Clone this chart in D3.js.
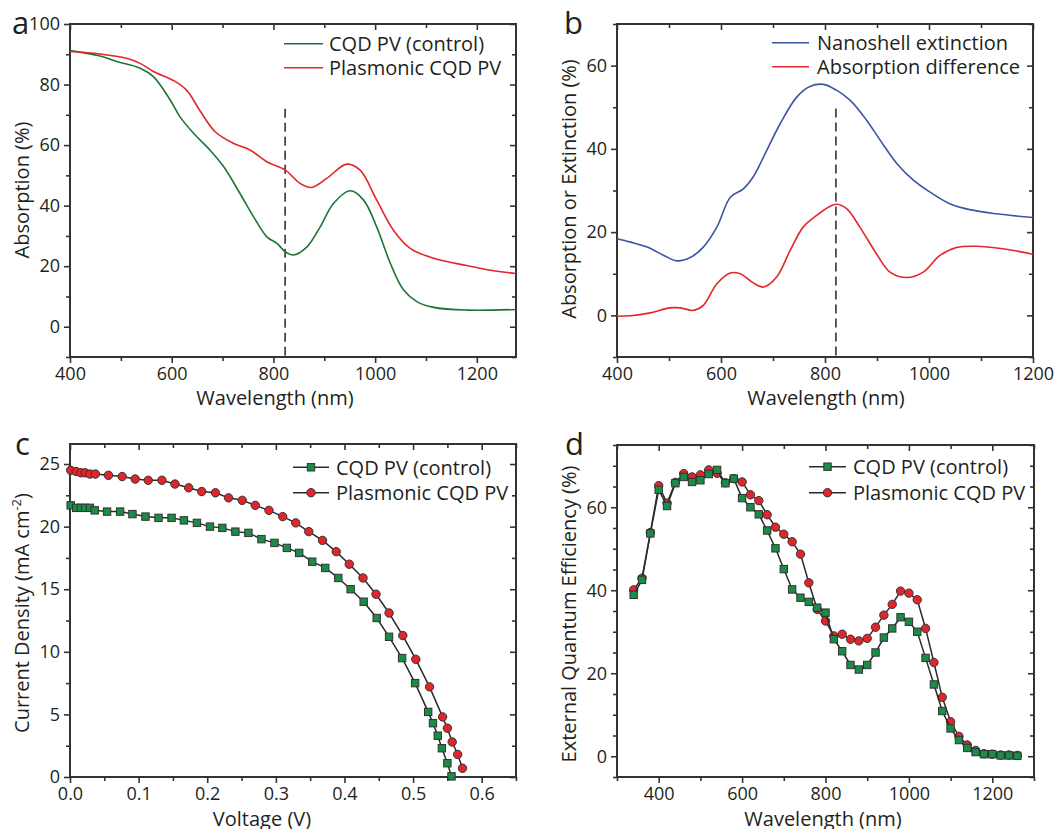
<!DOCTYPE html>
<html>
<head>
<meta charset="utf-8">
<script src="https://cdn.jsdelivr.net/npm/d3@7"></script>
<style>
  body { margin: 0; background: #fff; }
  svg { font-family: "Open Sans", sans-serif; }
</style>
</head>
<body>
<svg id="chart" width="1059" height="829"></svg>
<script>
// ---- panel a: absorption spectra ----
const ctrlAbsWl = [400, 459, 492, 538, 564, 597, 616, 643, 675, 702, 734, 761, 787, 807, 823, 839, 866, 892, 918, 951, 977, 1003, 1030, 1056, 1082, 1115, 1180, 1277];
const ctrlAbs   = [91.2, 89.4, 87.6, 85.4, 82.6, 74.9, 69.4, 63.9, 58.4, 52.9, 44.1, 36.3, 29.7, 27.5, 24.8, 23.7, 26.4, 33.0, 40.7, 44.9, 41.9, 33.0, 20.9, 12.1, 8.3, 6.4, 5.5, 5.7];
const plasAbsWl = [400, 459, 511, 538, 564, 605, 630, 655, 685, 721, 754, 787, 823, 852, 875, 905, 944, 970, 1003, 1036, 1069, 1115, 1180, 1233, 1277];
const plasAbs   = [90.9, 90.1, 88.7, 87.0, 84.3, 81.2, 78.0, 71.5, 64.5, 60.6, 58.4, 54.5, 51.8, 47.4, 46.0, 49.0, 53.7, 51.8, 41.9, 31.9, 25.9, 22.6, 20.2, 18.5, 17.6];

// ---- panel b: nanoshell extinction / absorption difference ----
const extWl  = [400, 426, 458, 490, 515, 541, 566, 592, 618, 643, 662, 682, 714, 746, 771, 797, 822, 848, 880, 906, 938, 970, 1002, 1040, 1078, 1130, 1200];
const ext    = [18.4, 17.6, 16.4, 14.4, 13.1, 13.9, 16.4, 21.2, 28.4, 30.4, 33.3, 38.1, 46.1, 52.5, 55.0, 55.5, 54.1, 51.7, 46.9, 42.1, 36.5, 32.5, 29.6, 26.8, 25.4, 24.4, 23.5];
const diffWl = [400, 426, 464, 502, 522, 547, 566, 592, 618, 637, 662, 682, 707, 733, 758, 784, 810, 822, 842, 867, 899, 925, 957, 989, 1021, 1053, 1091, 1142, 1200];
const diff   = [-0.2, -0.1, 0.6, 1.8, 1.8, 1.2, 2.4, 7.6, 10.2, 10.0, 7.8, 6.8, 9.2, 15.6, 21.2, 24.0, 26.2, 26.7, 25.6, 21.2, 14.8, 10.4, 9.1, 10.4, 14.4, 16.3, 16.6, 16.0, 14.7];

// ---- panel c: J-V curves ----
const ctrlV = [0.001, 0.009, 0.016, 0.022, 0.029, 0.036, 0.054, 0.073, 0.091, 0.110, 0.129, 0.148, 0.166, 0.185, 0.204, 0.222, 0.241, 0.260, 0.279, 0.298, 0.316, 0.334, 0.353, 0.372, 0.391, 0.409, 0.428, 0.447, 0.465, 0.484, 0.503, 0.522, 0.529, 0.536, 0.542, 0.550, 0.556];
const ctrlJ = [21.7, 21.5, 21.5, 21.5, 21.5, 21.3, 21.2, 21.2, 21.0, 20.8, 20.7, 20.7, 20.5, 20.3, 20.0, 19.9, 19.6, 19.5, 19.0, 18.7, 18.3, 17.9, 17.2, 16.7, 15.9, 15.0, 14.0, 12.7, 11.2, 9.5, 7.5, 5.2, 4.3, 3.3, 2.3, 1.1, 0.05];
const plasV = [0.001, 0.009, 0.016, 0.022, 0.029, 0.037, 0.056, 0.076, 0.095, 0.114, 0.134, 0.153, 0.173, 0.192, 0.212, 0.231, 0.251, 0.270, 0.290, 0.310, 0.329, 0.348, 0.368, 0.388, 0.407, 0.427, 0.446, 0.465, 0.485, 0.504, 0.524, 0.543, 0.550, 0.557, 0.565, 0.572];
const plasJ = [24.5, 24.4, 24.3, 24.3, 24.2, 24.2, 24.1, 24.0, 23.8, 23.7, 23.7, 23.4, 23.1, 22.8, 22.7, 22.3, 22.1, 21.7, 21.3, 20.8, 20.3, 19.6, 18.9, 18.0, 17.0, 15.9, 14.6, 13.1, 11.3, 9.4, 7.2, 4.8, 3.9, 2.8, 1.8, 0.7];

// ---- panel d: EQE ----
const eqeWl = [340, 360, 380, 400, 420, 440, 460, 480, 500, 520, 540, 560, 580, 600, 620, 640, 660, 680, 700, 720, 740, 760, 780, 800, 820, 840, 860, 880, 900, 920, 940, 960, 980, 1000, 1020, 1040, 1060, 1080, 1100, 1120, 1140, 1160, 1180, 1200, 1220, 1240, 1260];
const ctrlEqe = [38.9, 42.5, 53.7, 64.2, 60.3, 65.8, 67.3, 66.1, 66.5, 68.0, 69.0, 65.8, 66.9, 62.2, 60.0, 58.3, 54.4, 50.1, 45.1, 40.2, 38.2, 37.2, 35.8, 34.6, 28.2, 25.3, 22.0, 20.9, 22.0, 25.0, 28.6, 30.8, 33.5, 32.4, 30.0, 23.7, 17.3, 10.9, 6.7, 3.9, 2.0, 1.0, 0.5, 0.5, 0.2, 0.2, 0.1];
const plasEqe = [40.1, 42.9, 53.9, 65.2, 61.0, 66.0, 68.1, 67.3, 67.8, 69.0, 68.2, 65.9, 66.9, 66.1, 63.0, 61.6, 58.2, 55.2, 53.5, 51.7, 48.7, 41.8, 35.4, 32.6, 29.0, 29.4, 28.2, 27.8, 28.4, 31.1, 34.0, 36.6, 39.8, 39.3, 37.7, 30.8, 22.6, 14.2, 8.3, 4.8, 2.7, 1.4, 0.6, 0.5, 0.3, 0.3, 0.2];

// tick labels
const wlTicksA = [400, 600, 800, 1000, 1200];
const absTicks = [0, 20, 40, 60, 80, 100];
const extTicks = [0, 20, 40, 60];
const vTicks = [0.0, 0.1, 0.2, 0.3, 0.4, 0.5, 0.6];
const jTicks = [0, 5, 10, 15, 20, 25];
const eqeTicks = [0, 20, 40, 60];

const legendA = ["CQD PV (control)", "Plasmonic CQD PV"];
const legendB = ["Nanoshell extinction", "Absorption difference"];

const axisColor = "#333";
const textColor = "#231f20";
const green = "#1d7436";
const red = "#e3262b";
const blue = "#3b55a5";
const markGreen = "#1a8c47";
const markRed = "#e0262b";

const svg = d3.select("#chart");

function drawTicks(g, axisFn, scale, vals, size, tr, fmt) {
  const a = axisFn(scale).tickValues(vals).tickSize(size).tickPadding(4);
  a.tickFormat(fmt || "");
  const s = g.append("g").attr("transform", tr).call(a);
  s.select(".domain").remove();
  s.selectAll("line").attr("stroke", axisColor).attr("stroke-width", 1.6);
  if (!fmt) s.selectAll("text").remove();
  s.selectAll("text").attr("fill", textColor).style("font-size", "18px")
    .style("font-family", "'Open Sans', sans-serif");
}

function panel(o) {
  const g = svg.append("g");
  const x = d3.scaleLinear().domain(o.xDomain).range([o.left, o.right]);
  const y = d3.scaleLinear().domain(o.yDomain).range([o.bottom, o.top]);
  const xMinor = d3.range(o.xDomain[0], o.xDomain[1] + 1e-9, o.xMinorStep).filter(v => !o.xTicks.some(t => Math.abs(t - v) < 1e-9));
  const yMinor = d3.range(o.yMinorStart, o.yDomain[1] + 1e-9, o.yMinorStep).filter(v => !o.yTicks.some(t => Math.abs(t - v) < 1e-9));

  drawTicks(g, d3.axisBottom, x, o.xTicks, 6, `translate(0,${o.bottom})`, o.xFmt || d3.format("d"));
  drawTicks(g, d3.axisBottom, x, xMinor, 4, `translate(0,${o.bottom})`);
  drawTicks(g, d3.axisTop, x, o.xTicks, -6, `translate(0,${o.top})`);
  drawTicks(g, d3.axisTop, x, xMinor, -4, `translate(0,${o.top})`);
  drawTicks(g, d3.axisLeft, y, o.yTicks, 6, `translate(${o.left},0)`, d3.format("d"));
  drawTicks(g, d3.axisLeft, y, yMinor, 4, `translate(${o.left},0)`);
  drawTicks(g, d3.axisRight, y, o.yTicks, -6, `translate(${o.right},0)`);
  drawTicks(g, d3.axisRight, y, yMinor, -4, `translate(${o.right},0)`);

  g.append("rect")
    .attr("x", o.left).attr("y", o.top)
    .attr("width", o.right - o.left).attr("height", o.bottom - o.top)
    .attr("fill", "none").attr("stroke", axisColor).attr("stroke-width", 2);

  g.append("text").attr("x", o.xTitleX).attr("y", o.xTitleY)
    .attr("text-anchor", "middle").attr("fill", textColor)
    .style("font-size", "20px").text(o.xTitle);

  const yt = g.append("text")
    .attr("transform", `translate(${o.yTitleX},${o.yTitleY}) rotate(-90)`)
    .attr("text-anchor", "middle").attr("fill", textColor)
    .style("font-size", "20px");
  yt.text(o.yTitle);
  if (o.yTitleSup) {
    yt.append("tspan").attr("dy", -8).style("font-size", "13px").text(o.yTitleSup);
    yt.append("tspan").attr("dy", 8).text(")");
  }

  g.append("text").attr("x", o.labelX).attr("y", o.labelY)
    .attr("fill", textColor).style("font-size", "31px").text(o.label);

  return { g, x, y };
}

function curve(p, xs, ys, color) {
  const line = d3.line().x(d => p.x(d[0])).y(d => p.y(d[1])).curve(d3.curveCatmullRom.alpha(0.5));
  p.g.append("path").datum(d3.zip(xs, ys))
    .attr("d", line).attr("fill", "none")
    .attr("stroke", color).attr("stroke-width", 1.6);
}

function dashed(p, xv, y0, y1) {
  p.g.append("line")
    .attr("x1", p.x(xv)).attr("x2", p.x(xv))
    .attr("y1", p.y(y0)).attr("y2", p.y(y1))
    .attr("stroke", "#333").attr("stroke-width", 1.6)
    .attr("stroke-dasharray", "9,5");
}

function marker(g, cx, cy, shape, fill) {
  if (shape === "square") {
    g.append("rect").attr("x", cx - 3.7).attr("y", cy - 3.7)
      .attr("width", 7.4).attr("height", 7.4)
      .attr("fill", fill).attr("stroke", "#333").attr("stroke-width", 1);
  } else {
    g.append("circle").attr("cx", cx).attr("cy", cy).attr("r", 4.2)
      .attr("fill", fill).attr("stroke", "#333").attr("stroke-width", 1);
  }
}

function scatterLine(p, xs, ys, shape, fill) {
  const pts = d3.zip(xs, ys);
  const line = d3.line().x(d => p.x(d[0])).y(d => p.y(d[1]));
  p.g.append("path").datum(pts).attr("d", line)
    .attr("fill", "none").attr("stroke", "#2a2a2a").attr("stroke-width", 1.5);
  const mg = p.g.append("g");
  pts.forEach(d => marker(mg, p.x(d[0]), p.y(d[1]), shape, fill));
}

function legend(p, items, x0, x1, ys, tx) {
  items.forEach((it, i) => {
    p.g.append("line").attr("x1", x0).attr("x2", x1).attr("y1", ys[i]).attr("y2", ys[i])
      .attr("stroke", it.color).attr("stroke-width", it.shape ? 1.5 : 1.6);
    if (it.shape) marker(p.g, (x0 + x1) / 2, ys[i], it.shape, it.fill);
    p.g.append("text").attr("x", tx).attr("y", ys[i]).attr("dy", "0.36em")
      .attr("fill", textColor).style("font-size", "20px").text(it.label);
  });
}

// ---- a ----
const pa = panel({
  left: 70, right: 516, top: 24, bottom: 357,
  xDomain: [400, 1277], yDomain: [-10, 100],
  xTicks: wlTicksA, xMinorStep: 100, yTicks: absTicks, yMinorStart: -10, yMinorStep: 10,
  xTitle: "Wavelength (nm)", xTitleX: 275, xTitleY: 405,
  yTitle: "Absorption (%)", yTitleX: 29, yTitleY: 190,
  label: "a", labelX: 12, labelY: 34
});
dashed(pa, 823, 72, -10);
curve(pa, ctrlAbsWl, ctrlAbs, green);
curve(pa, plasAbsWl, plasAbs, red);
legend(pa, [{ label: legendA[0], color: green }, { label: legendA[1], color: red }], 284, 323, [43.7, 67.7], 329);

// ---- b ----
const pb = panel({
  left: 617, right: 1033, top: 24, bottom: 357,
  xDomain: [400, 1200], yDomain: [-10, 70],
  xTicks: wlTicksA, xMinorStep: 100, yTicks: extTicks, yMinorStart: -10, yMinorStep: 10,
  xTitle: "Wavelength (nm)", xTitleX: 826, xTitleY: 405,
  yTitle: "Absorption or Extinction (%)", yTitleX: 576, yTitleY: 189,
  label: "b", labelX: 564, labelY: 34
});
dashed(pb, 821, 49.7, -10);
curve(pb, extWl, ext, blue);
curve(pb, diffWl, diff, red);
legend(pb, [{ label: legendB[0], color: blue }, { label: legendB[1], color: red }], 772, 809, [42.7, 66.7], 817);

// ---- c ----
const pc = panel({
  left: 70, right: 516, top: 444, bottom: 777,
  xDomain: [0, 0.65], yDomain: [0, 26.6],
  xTicks: vTicks, xMinorStep: 0.05, xFmt: d3.format(".1f"), yTicks: jTicks, yMinorStart: 2.5, yMinorStep: 2.5,
  xTitle: "Voltage (V)", xTitleX: 262, xTitleY: 826,
  yTitle: "Current Density (mA cm", yTitleSup: "-2", yTitleX: 29, yTitleY: 613,
  label: "c", labelX: 15, labelY: 455
});
scatterLine(pc, plasV, plasJ, "circle", markRed);
scatterLine(pc, ctrlV, ctrlJ, "square", markGreen);
legend(pc, [{ label: legendA[0], color: "#2a2a2a", shape: "square", fill: markGreen },
            { label: legendA[1], color: "#2a2a2a", shape: "circle", fill: markRed }], 293, 329, [467.3, 492.7], 336);

// ---- d ----
const pd = panel({
  left: 617, right: 1034, top: 445, bottom: 777,
  xDomain: [300, 1300], yDomain: [-5, 75],
  xTicks: wlTicksA, xMinorStep: 100, yTicks: eqeTicks, yMinorStart: -5, yMinorStep: 5,
  xTitle: "Wavelength (nm)", xTitleX: 823, xTitleY: 826,
  yTitle: "External Quantum Efficiency (%)", yTitleX: 576, yTitleY: 614,
  label: "d", labelX: 565, labelY: 455
});
scatterLine(pd, eqeWl, plasEqe, "circle", markRed);
scatterLine(pd, eqeWl, ctrlEqe, "square", markGreen);
legend(pd, [{ label: legendA[0], color: "#2a2a2a", shape: "square", fill: markGreen },
            { label: legendA[1], color: "#2a2a2a", shape: "circle", fill: markRed }], 809, 846, [466.7, 492.7], 853);
</script>
</body>
</html>
